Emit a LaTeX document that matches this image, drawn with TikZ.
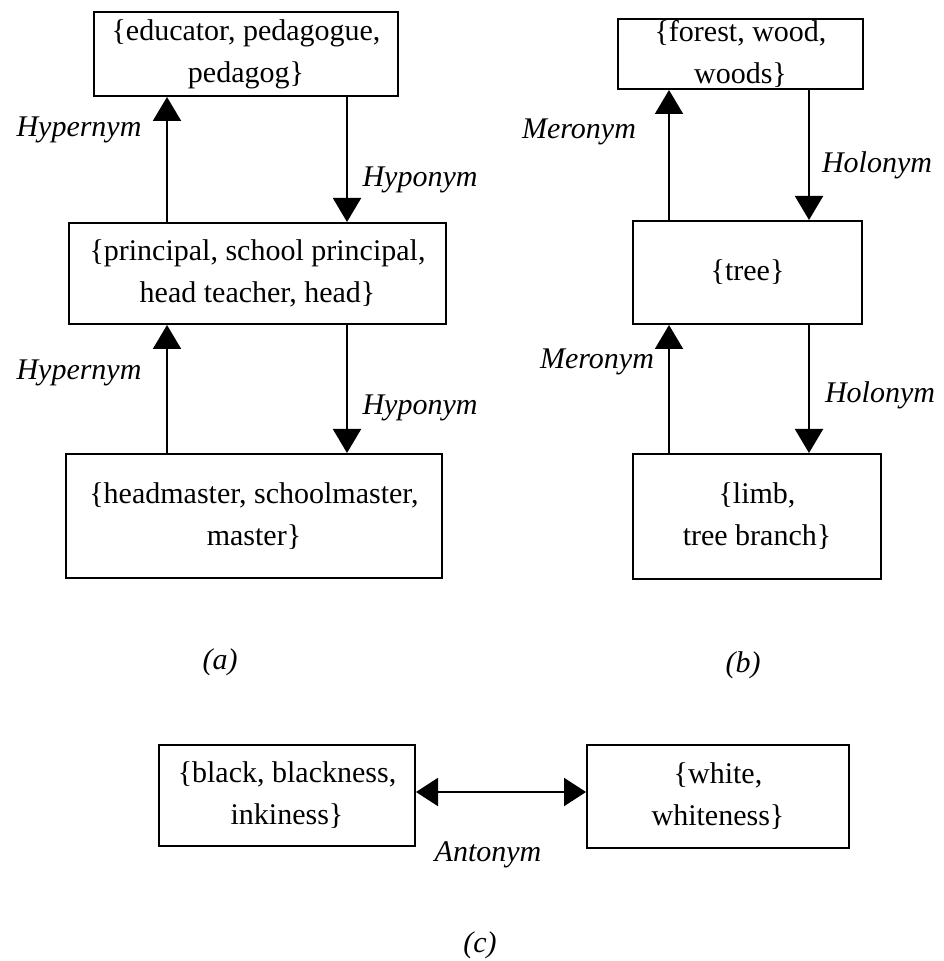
\documentclass[tikz,border=0pt]{standalone}
\usepackage{fontspec}
\setmainfont{Liberation Serif}
\usetikzlibrary{arrows.meta,positioning}

\begin{document}
\begin{tikzpicture}[
    x=0.5pt, y=-0.5pt,
    every node/.style={font=\fontsize{15}{21}\selectfont, align=center, inner sep=0pt},
    synset/.style={draw=black, line width=1pt},
    rel/.style={font=\fontsize{15}{21}\selectfont\itshape},
    arrow/.style={line width=1pt, -{Triangle[width=14pt,length=12pt]}},
    twoway/.style={line width=1pt, {Triangle[width=14pt,length=11pt]}-{Triangle[width=14pt,length=11pt]}}
]
\useasboundingbox (0,0) rectangle (943,961);

% --- Nodes (a) ---
\node[synset, minimum width=152pt, minimum height=42pt] (edu) at (246,54)
    {\{educator, pedagogue,\\pedagog\}};
\node[synset, minimum width=188.5pt, minimum height=50.5pt] (prin) at (257.5,273.5)
    {\{principal, school principal,\\head teacher, head\}};
\node[synset, minimum width=188pt, minimum height=62pt] (head) at (254,516)
    {\{headmaster, schoolmaster,\\master\}};

% --- Nodes (b) ---
\node[synset, minimum width=122.5pt, minimum height=35pt] (forest) at (740.5,54)
    {\{forest, wood,\\woods\}};
\node[synset, minimum width=114.5pt, minimum height=51.5pt] (tree) at (747.5,272.5)
    {\{tree\}};
\node[synset, minimum width=124pt, minimum height=62.5pt] (limb) at (757,516.5)
    {\{limb,\\tree branch\}};

% --- Nodes (c) ---
\node[synset, minimum width=128pt, minimum height=50.5pt] (black) at (287,795.5)
    {\{black, blackness,\\inkiness\}};
\node[synset, minimum width=131pt, minimum height=51.5pt] (white) at (718,796.5)
    {\{white,\\whiteness\}};

% --- Arrow columns ---
\coordinate (upA) at (167,0);
\coordinate (downA) at (347,0);
\coordinate (upB) at (669,0);
\coordinate (downB) at (809,0);
\coordinate (antoRow) at (0,792);

% --- Arrows ---
\draw[arrow] (prin.north -| upA) -- (edu.south -| upA);
\draw[arrow] (edu.south -| downA) -- (prin.north -| downA);
\draw[arrow] (head.north -| upA) -- (prin.south -| upA);
\draw[arrow] (prin.south -| downA) -- (head.north -| downA);
\draw[arrow] (tree.north -| upB) -- (forest.south -| upB);
\draw[arrow] (forest.south -| downB) -- (tree.north -| downB);
\draw[arrow] (limb.north -| upB) -- (tree.south -| upB);
\draw[arrow] (tree.south -| downB) -- (limb.north -| downB);
\draw[twoway] (black.east |- antoRow) -- (white.west |- antoRow);

% --- Relation labels ---
\node[rel] (hyper1) at (79,130) {Hypernym};
\node[rel] (hypo1) at (420,180) {Hyponym};
\node[rel] (hyper2) at (79,373) {Hypernym};
\node[rel] (hypo2) at (420,408) {Hyponym};
\node[rel] (mero1) at (579,132) {Meronym};
\node[rel] (holo1) at (877,165) {Holonym};
\node[rel] (mero2) at (597,362) {Meronym};
\node[rel] (holo2) at (880,395) {Holonym};
\node[rel] (anto) at (488,855) {Antonym};

% --- Captions ---
\node[rel] (capa) at (220,662) {(a)};
\node[rel] (capb) at (743,665) {(b)};
\node[rel] (capc) at (480,945) {(c)};

\end{tikzpicture}
\end{document}
